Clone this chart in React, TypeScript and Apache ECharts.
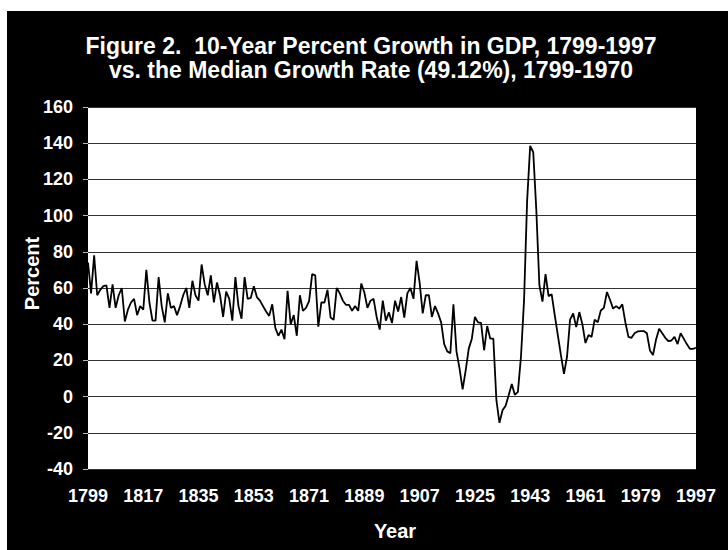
import React, { useEffect, useRef } from "react";
import * as echarts from "echarts";

const titleLine1 = "Figure 2.  10-Year Percent Growth in GDP, 1799-1997";
const titleLine2 = "vs. the Median Growth Rate (49.12%), 1799-1970";
const yAxisName = "Percent";
const xAxisName = "Year";

const startYear = 1799;
const endYear = 1997;
const years: string[] = [];
for (let y = startYear; y <= endYear; y++) years.push(String(y));

// 10-year percent growth (1799..1997)
const growth1799_1846 = [
  74, 57, 78, 56, 59, 61, 61.5, 49, 62, 49, 56, 60, 41.5, 48, 52, 54, 45, 50, 48, 70,
  52, 42, 42, 66, 50, 41, 57, 49, 50, 45, 50, 56, 60, 49, 64, 56, 53, 73, 62, 56,
  67, 52, 63, 56, 44, 58, 54, 42,
];
const growth1847_1898 = [
  66, 50, 43, 66, 54, 54.5, 61, 55, 53, 50, 47, 44.6, 51, 38, 33.6, 37, 31.7, 58.5, 40, 45,
  33.6, 56, 47.4, 49, 52.8, 67.7, 67, 38.6, 52, 52, 59, 43.7, 42.4, 60, 57, 53, 50.7, 50.7, 47.4, 50,
  47.4, 62.5, 57.5, 49, 53, 54, 44, 37, 53, 42, 46.5, 40.6,
];
const growth1899_1941 = [
  53, 47, 55, 43.6, 57, 60, 54, 75, 63, 46, 56, 56, 44, 50, 46, 41, 29, 25, 24, 51,
  25, 15.5, 4, 14.5, 26.5, 32, 44, 41, 40.7, 25.6, 39, 32, 32, -2, -14.5, -7.5, -5, 0.7, 7, 1,
  2.6, 22, 53,
];
const growth1942_1949 = [108, 138.5, 135, 103, 61.5, 52.5, 67.7, 55.5];
const growth1950_1997 = [
  56.5, 45, 34, 23, 12.6, 22, 42.5, 46, 38.4, 46.7, 40, 29.6, 34, 33, 42.5, 41, 47.6, 49, 57.8, 53.5,
  48.6, 50, 48.6, 51, 41, 33, 32.5, 35, 36, 36.2, 36.2, 35, 25.5, 23, 31.6, 37.5, 35, 32.5, 30.7, 31,
  33, 29, 35, 32, 29, 26.4, 26.4, 27,
];
const growth = [
  ...growth1799_1846,
  ...growth1847_1898,
  ...growth1899_1941,
  ...growth1942_1949,
  ...growth1950_1997,
];

const yMin = -40;
const yMax = 160;
const yStep = 20;

const FONT = "'Liberation Sans', Arial, Helvetica, sans-serif";

export default function App() {
  const ref = useRef<HTMLDivElement>(null);
  useEffect(() => {
    if (!ref.current) return;
    const chart = echarts.init(ref.current, null, { renderer: "svg" });
    chart.setOption({
      animation: false,
      backgroundColor: "#000",
      textStyle: { fontFamily: FONT },
      grid: {
        left: 81,
        top: 96,
        width: 608,
        height: 362,
        show: true,
        backgroundColor: "#fff",
        borderWidth: 0,
      },
      xAxis: {
        type: "category",
        data: years,
        boundaryGap: false,
        axisLine: { show: false },
        axisTick: { show: false },
        splitLine: { show: false },
        axisLabel: {
          interval: 17,
          color: "#fff",
          fontWeight: "bold",
          fontSize: 18,
          fontFamily: FONT,
          margin: 18,
        },
      },
      yAxis: {
        type: "value",
        min: yMin,
        max: yMax,
        interval: yStep,
        axisLine: { show: false },
        axisTick: { show: true, length: 5, lineStyle: { color: "#bbb", width: 1 } },
        splitLine: { show: true, lineStyle: { color: "#333", width: 1 } },
        axisLabel: {
          color: "#fff",
          fontWeight: "bold",
          fontSize: 18,
          fontFamily: FONT,
          margin: 15,
        },
      },
      series: [
        {
          type: "line",
          data: growth,
          symbol: "none",
          lineStyle: { color: "#000", width: 1.8 },
        },
      ],
      graphic: [
        {
          type: "text",
          x: 364,
          y: 35,
          style: {
            text: titleLine1,
            fill: "#fff",
            font: `bold 23px ${FONT}`,
            textAlign: "center",
            textVerticalAlign: "middle",
          },
        },
        {
          type: "text",
          x: 364,
          y: 59,
          style: {
            text: titleLine2,
            fill: "#fff",
            font: `bold 23px ${FONT}`,
            textAlign: "center",
            textVerticalAlign: "middle",
          },
        },
        {
          type: "text",
          x: 25,
          y: 262.5,
          rotation: Math.PI / 2,
          style: {
            text: yAxisName,
            fill: "#fff",
            font: `bold 20px ${FONT}`,
            textAlign: "center",
            textVerticalAlign: "middle",
          },
        },
        {
          type: "text",
          x: 388,
          y: 520,
          style: {
            text: xAxisName,
            fill: "#fff",
            font: `bold 20px ${FONT}`,
            textAlign: "center",
            textVerticalAlign: "middle",
          },
        },
      ],
    });
    return () => chart.dispose();
  }, []);
  return (
    <div
      style={{
        position: "fixed",
        left: 0,
        top: 0,
        width: 728,
        height: 550,
        background: "#fff",
      }}
    >
      <div
        ref={ref}
        style={{ position: "absolute", left: 7, top: 11, width: 721, height: 539 }}
      />
    </div>
  );
}
